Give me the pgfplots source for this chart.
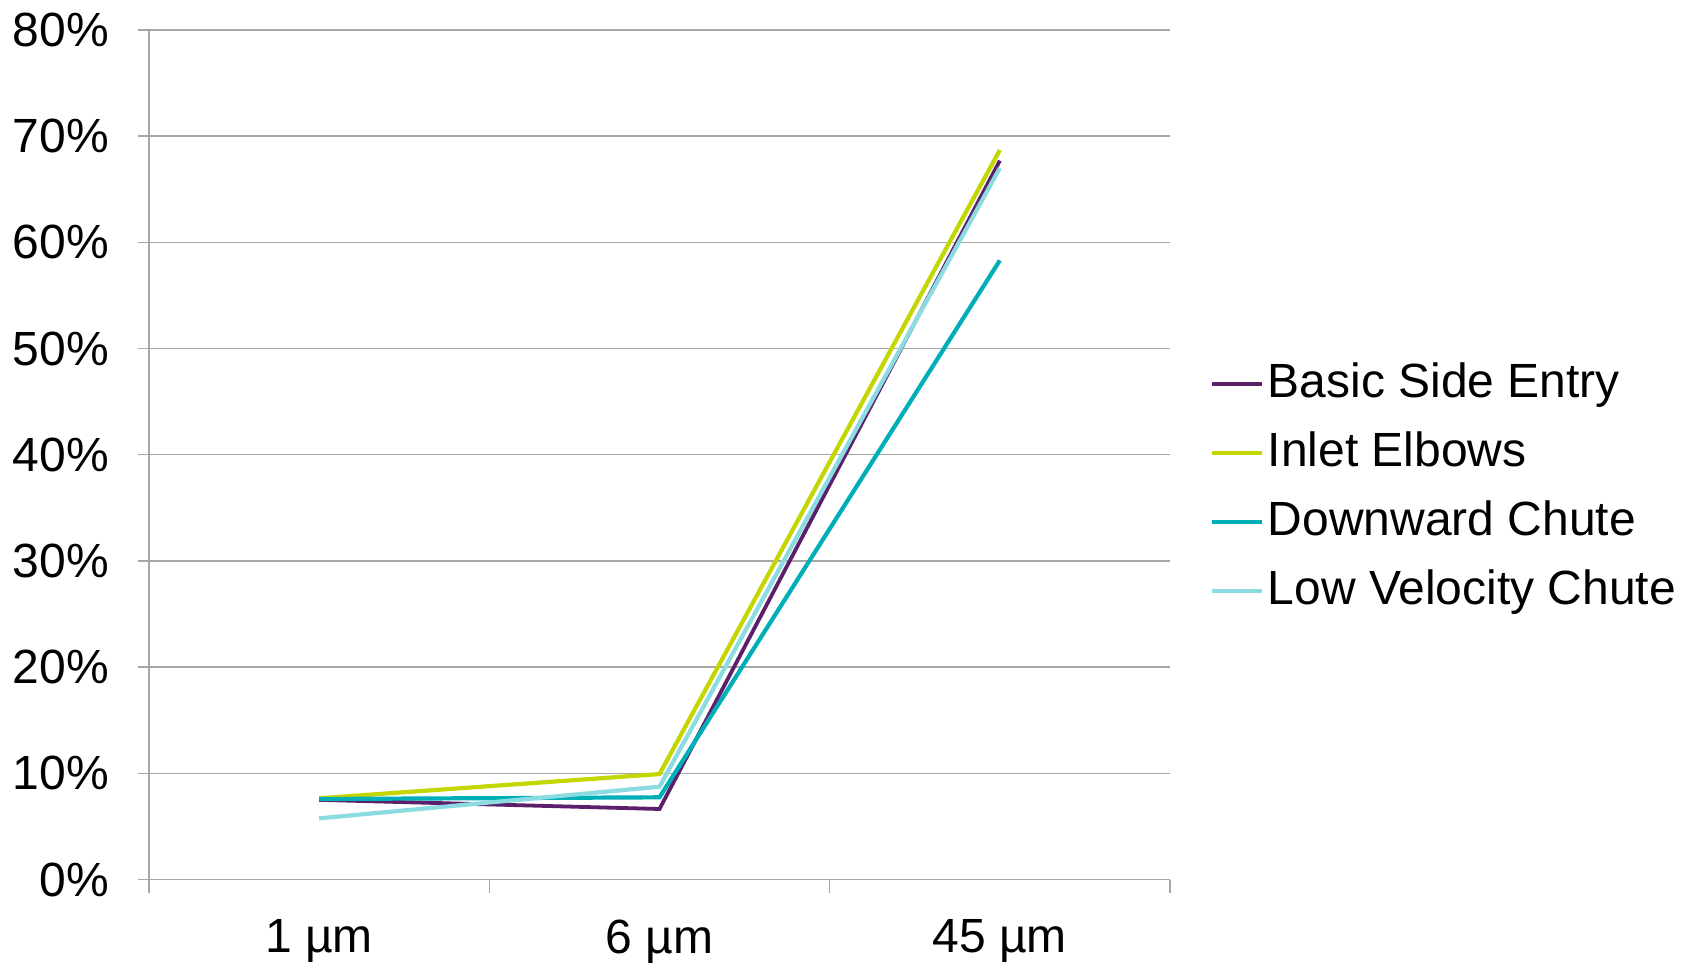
\documentclass[border=0pt]{standalone}
\usepackage{pgfplots}
\pgfplotsset{compat=1.18}
\usepackage{fontspec}
\setmainfont{Liberation Sans}
\definecolor{cPurple}{HTML}{5C1F6A}
\definecolor{cYellow}{HTML}{C4D600}
\definecolor{cTeal}{HTML}{00AEB8}
\definecolor{cLight}{HTML}{8BDCE1}
\definecolor{cGrid}{HTML}{A6A6A6}
\begin{document}
\begin{tikzpicture}
\path[use as bounding box] (-74.5pt,-43.25pt) rectangle (772.5pt,439.75pt);
\begin{axis}[
  at={(0,0)}, anchor=south west,
  scale only axis,
  width=510.5pt, height=424.75pt,
  xmin=-0.5, xmax=2.5, ymin=0, ymax=80,
  axis lines*=left,
  axis line style={cGrid, line width=0.7pt},
  xtick={0,1,2},
  xticklabels={1 µm, 6 µm, 45 µm},
  minor xtick={-0.5,0.5,1.5,2.5},
  major x tick style={draw=none},
  ytick={0,10,...,80},
  yticklabels={0\%,10\%,20\%,30\%,40\%,50\%,60\%,70\%,80\%},
  tick align=outside,
  major tick length=5.5pt,
  minor tick length=6.5pt,
  tick style={cGrid, line width=0.7pt},
  ymajorgrids,
  major grid style={cGrid, line width=0.7pt},
  tick label style={font=\fontsize{24}{29}\selectfont},
  xticklabel style={yshift=-11pt},
  yticklabel style={xshift=-11pt},
  legend style={at={(1.0325,0.4618)}, anchor=west, draw=none, fill=none,
    font=\fontsize{24}{29}\selectfont, row sep=0pt,
    nodes={inner sep=0pt, text height=24pt, text depth=10.5pt}},
  legend cell align=left,
  legend image code/.code={\draw[#1] (0pt,0pt) -- (25pt,0pt); \path (27pt,0pt);},
]
\addplot[cPurple, line width=1.9pt] coordinates {(0,7.5) (1,6.64) (2,67.7)};
\addlegendentry{Basic Side Entry}
\addplot[cYellow, line width=2.1pt] coordinates {(0,7.65) (1,9.93) (2,68.7)};
\addlegendentry{Inlet Elbows}
\addplot[cTeal, line width=2.1pt] coordinates {(0,7.58) (1,7.74) (2,58.3)};
\addlegendentry{Downward Chute}
\addplot[cLight, line width=2.1pt] coordinates {(0,5.76) (1,8.74) (2,67.0)};
\addlegendentry{Low Velocity Chute}
\end{axis}
\end{tikzpicture}
\end{document}
